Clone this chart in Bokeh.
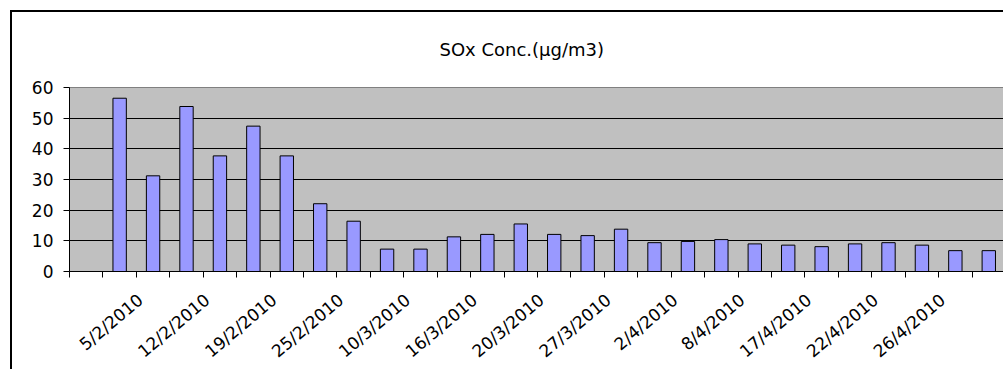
import math
from bokeh.plotting import figure
from bokeh.models import FixedTicker, Range1d, ColumnDataSource
from bokeh.embed import file_html
from bokeh.resources import INLINE

title_text = "SOx Conc.(µg/m3)"
categories = ["", "", "5/2/2010", "", "12/2/2010", "", "19/2/2010", "", "25/2/2010", "",
              "10/3/2010", "", "16/3/2010", "", "20/3/2010", "", "27/3/2010", "", "2/4/2010", "",
              "8/4/2010", "", "17/4/2010", "", "22/4/2010", "", "26/4/2010", ""]
values = [None, 56.5, 31.2, 53.8, 37.7, 47.4, 37.7, 22.1, 16.4, 7.3, 7.3, 11.3, 12.1, 15.5,
          12.1, 11.7, 13.8, 9.4, 9.8, 10.4, 9.0, 8.6, 8.1, 9.0, 9.4, 8.6, 6.8, 6.8]
y_ticks = [0, 10, 20, 30, 40, 50, 60]

n = len(categories)
xs = [i + 0.5 for i, v in enumerate(values) if v is not None]
tops = [v for v in values if v is not None]
src = ColumnDataSource(dict(x=xs, top=tops))

FONT = "DejaVu Sans"
LABEL_SHIFT = 0.38  # rotated labels end slightly left of the category centre (Excel style)

p = figure(width=993, height=359, output_backend="svg", toolbar_location=None,
           x_range=Range1d(0, n), y_range=Range1d(y_ticks[0], y_ticks[-1]),
           min_border_left=57, min_border_right=0, min_border_top=74, min_border_bottom=99,
           title=title_text)
p.margin = (10, 0, 0, 10)
p.styles = {"border-left": "2px solid black", "border-top": "2px solid black"}
p.background_fill_color = "#C0C0C0"
p.border_fill_color = "white"
p.outline_line_color = "#808080"
p.outline_line_width = 1

p.title.align = "left"
p.title.offset = 370
p.title.vertical_align = "top"
p.title.standoff = 52
p.title.text_font = FONT
p.title.text_font_size = "18px"
p.title.text_font_style = "normal"
p.title.text_color = "black"

p.vbar(x="x", top="top", width=0.4, source=src, fill_color="#9999FF",
       line_color="black", line_width=1)

# x axis
xaxis = p.below[0]
label_pos = [i + 0.5 - LABEL_SHIFT for i, c in enumerate(categories) if c]
xaxis.ticker = FixedTicker(ticks=label_pos, minor_ticks=list(range(n + 1)))
xaxis.major_label_overrides = {i + 0.5 - LABEL_SHIFT: c for i, c in enumerate(categories) if c}
xaxis.major_tick_line_color = None
xaxis.minor_tick_line_color = "black"
xaxis.minor_tick_out = 6
xaxis.minor_tick_in = 0
xaxis.axis_line_color = "black"
xaxis.major_label_orientation = math.radians(40)
xaxis.major_label_text_font = FONT
xaxis.major_label_text_font_size = "17px"
xaxis.major_label_text_color = "black"
xaxis.major_label_standoff = 20

# y axis
p.yaxis.ticker = FixedTicker(ticks=y_ticks)
p.yaxis.axis_line_color = "black"
p.yaxis.major_tick_line_color = "black"
p.yaxis.major_tick_out = 6
p.yaxis.major_tick_in = 0
p.yaxis.minor_tick_line_color = None
p.yaxis.major_label_text_font = FONT
p.yaxis.major_label_text_font_size = "17px"
p.yaxis.major_label_text_color = "black"
p.yaxis.major_label_standoff = 10

p.xgrid.visible = False
p.ygrid.ticker = FixedTicker(ticks=y_ticks[1:-1])
p.ygrid.grid_line_color = "black"
p.ygrid.grid_line_width = 1

open("out.html", "w").write(file_html(p, INLINE))
